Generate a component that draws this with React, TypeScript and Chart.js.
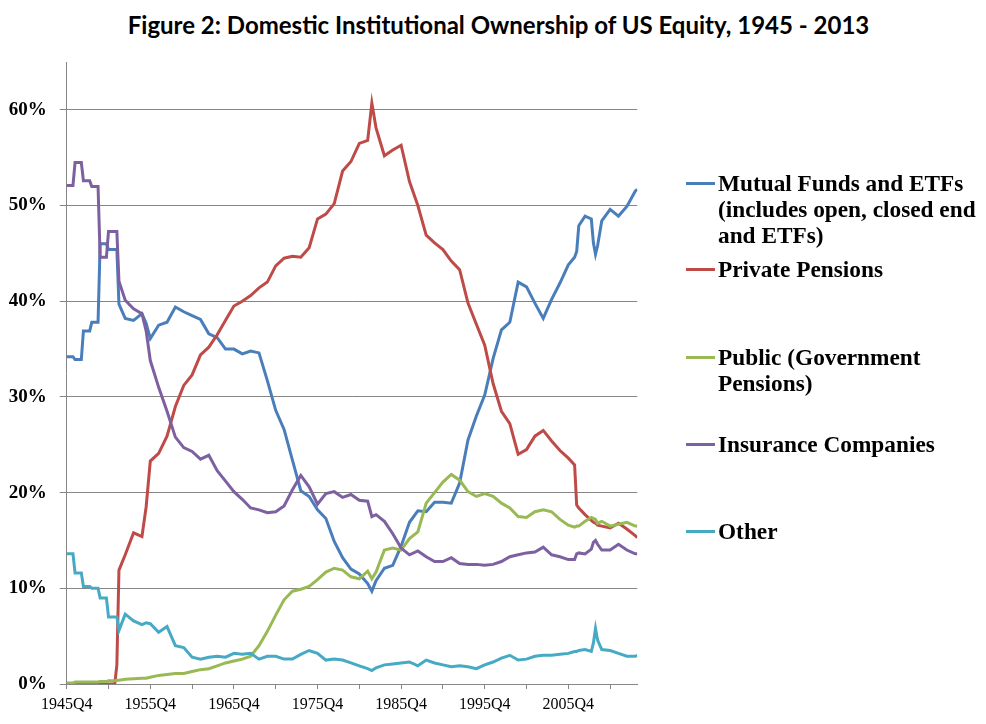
import { useEffect, useRef } from 'react';
import { Chart, LineController, LineElement, PointElement, LinearScale } from 'chart.js';

Chart.register(LineController, LineElement, PointElement, LinearScale);

// Dates of the points (annual Q4 values, plus extra
// quarters where the series step or spike).
const quarters = [
  '1945Q4', '1946Q3', '1946Q4', '1947Q3', '1947Q4', '1948Q3', '1948Q4', '1949Q3', '1949Q4',
  '1950Q3', '1950Q4', '1951Q3', '1951Q4', '1952Q1', '1952Q4', '1953Q4', '1954Q4', '1955Q2',
  '1955Q4', '1956Q4', '1957Q4', '1958Q4', '1959Q4', '1960Q4', '1961Q4', '1962Q4', '1963Q4',
  '1964Q4', '1965Q4', '1966Q4', '1967Q4', '1968Q4', '1969Q4', '1970Q4', '1971Q4', '1972Q4',
  '1973Q4', '1974Q4', '1975Q4', '1976Q4', '1977Q4', '1978Q4', '1979Q4', '1980Q4', '1981Q4',
  '1982Q2', '1982Q4', '1983Q4', '1984Q4', '1985Q4', '1986Q4', '1987Q4', '1988Q4', '1989Q4',
  '1990Q4', '1991Q4', '1992Q4', '1993Q4', '1994Q4', '1995Q4', '1996Q4', '1997Q4', '1998Q4',
  '1999Q4', '2000Q4', '2001Q4', '2002Q4', '2003Q4', '2004Q4', '2005Q4', '2006Q3', '2006Q4',
  '2007Q1', '2007Q4', '2008Q3', '2008Q4', '2009Q1', '2009Q2', '2009Q4', '2010Q4', '2011Q4',
  '2012Q4', '2013Q4', '2014Q1',
];

// percent of US equity
const mutualFunds = [
  34.2, 34.2, 33.9, 33.9, 36.9, 36.9, 37.8, 37.8, 46.0, 46.0, 45.4, 45.4, 45.4, 39.7,
  38.2, 38.0, 38.7, 37.7, 36.1, 37.5, 37.8, 39.4, 38.9, 38.5, 38.1, 36.6,
  36.2, 35.0, 35.0, 34.5, 34.8, 34.6, 31.7, 28.6, 26.6, 23.4, 20.2, 19.6, 18.2, 17.3, 14.9,
  13.2, 12.0, 11.5, 10.5, 9.7,
  10.8, 12.1, 12.4, 14.4, 16.9, 18.1, 18.0, 19.0, 19.0, 18.9, 21.0, 25.5, 28.0, 30.2, 34.0,
  37.0, 37.8, 42.0, 41.5, 39.8, 38.2, 40.2, 41.9, 43.8,
  44.6, 45.2, 47.9, 48.9, 48.6, 46.1, 44.9, 45.8, 48.4, 49.6, 48.9, 49.9, 51.5, 51.7,
];
const privatePensions = [
  0, 0, 0, 0, 0, 0, 0, 0, 0, 0, 0, 0, 2.0, 11.9,
  13.5, 15.8, 15.4, 18.5, 23.3, 24.1, 25.9, 29.0, 31.2, 32.3, 34.4, 35.2,
  36.5, 38.0, 39.5, 40.0, 40.6, 41.4, 42.0, 43.7, 44.5, 44.7, 44.6, 45.6, 48.6, 49.1, 50.2,
  53.6, 54.6, 56.5, 56.8, 60.7,
  58.1, 55.2, 55.8, 56.3, 52.5, 50.0, 46.9, 46.1, 45.4, 44.2, 43.3, 39.8, 37.6, 35.4, 31.4,
  28.5, 27.2, 24.0, 24.5, 25.9, 26.5, 25.4, 24.4, 23.6,
  22.9, 18.7, 18.4, 17.7, 17.1, 16.9, 16.8, 16.6, 16.5, 16.3, 16.8, 16.2, 15.5, 15.3,
];
const publicPensions = [
  0.1, 0.1, 0.2, 0.2, 0.2, 0.2, 0.2, 0.2, 0.25, 0.25, 0.35, 0.35, 0.4, 0.4,
  0.5, 0.55, 0.6, 0.6, 0.7, 0.9, 1.0, 1.1, 1.1, 1.3, 1.5, 1.6,
  1.9, 2.2, 2.4, 2.6, 2.9, 4.0, 5.5, 7.2, 8.8, 9.7, 9.9, 10.2, 10.9, 11.7, 12.1,
  11.9, 11.2, 11.0, 11.8, 11.0,
  11.7, 14.0, 14.2, 14.0, 15.2, 15.9, 18.9, 20.0, 21.1, 21.9, 21.3, 20.1, 19.6, 19.9, 19.6,
  18.9, 18.4, 17.5, 17.4, 18.0, 18.2, 18.0, 17.2, 16.6,
  16.4, 16.5, 16.5, 17.0, 17.4, 17.3, 17.2, 16.8, 17.0, 16.5, 16.7, 16.9, 16.5, 16.5,
];
const insurance = [
  52.1, 52.1, 54.5, 54.5, 52.6, 52.6, 52.0, 52.0, 44.6, 44.6, 47.3, 47.3, 47.3, 42.1,
  40.1, 39.2, 38.7, 36.9, 33.8, 31.0, 28.5, 25.8, 24.7, 24.3, 23.5, 23.9,
  22.3, 21.2, 20.1, 19.3, 18.4, 18.2, 17.9, 18.0, 18.6, 20.3, 21.8, 20.6, 18.8, 19.9, 20.1,
  19.5, 19.8, 19.2, 19.1, 17.5,
  17.7, 17.0, 15.7, 14.2, 13.5, 13.9, 13.3, 12.8, 12.8, 13.2, 12.6, 12.5, 12.5, 12.4, 12.5,
  12.8, 13.3, 13.5, 13.7, 13.8, 14.3, 13.5, 13.3, 13.0,
  13.0, 13.6, 13.7, 13.6, 14.1, 14.8, 15.0, 14.6, 14.0, 14.0, 14.6, 14.0, 13.6, 13.6,
];
const other = [
  13.6, 13.6, 11.6, 11.6, 10.2, 10.2, 10.0, 10.0, 9.0, 9.0, 7.0, 7.0, 7.0, 5.6,
  7.3, 6.6, 6.2, 6.4, 6.3, 5.4, 6.0, 4.0, 3.8, 2.8, 2.6, 2.8,
  2.9, 2.8, 3.2, 3.1, 3.2, 2.6, 2.9, 2.9, 2.6, 2.6, 3.1, 3.5, 3.2, 2.5, 2.6,
  2.5, 2.2, 1.9, 1.6, 1.4,
  1.7, 2.0, 2.1, 2.2, 2.3, 1.9, 2.5, 2.2, 2.0, 1.8, 1.9, 1.8, 1.6, 2.0, 2.3,
  2.7, 3.0, 2.5, 2.6, 2.9, 3.0, 3.0, 3.1, 3.2,
  3.4, 3.4, 3.5, 3.6, 3.4, 4.3, 5.8, 4.6, 3.6, 3.5, 3.2, 2.9, 2.9, 3.0,
];

const series = [
  { label: 'Mutual Funds and ETFs (includes open, closed end and ETFs)', values: mutualFunds, color: '#4A7EBB' },
  { label: 'Private Pensions', values: privatePensions, color: '#BE4B48' },
  { label: 'Public (Government Pensions)', values: publicPensions, color: '#98B954' },
  { label: 'Insurance Companies', values: insurance, color: '#7D60A0' },
  { label: 'Other', values: other, color: '#46AAC5' },
];

// legend text, broken into lines as in the figure
const legendLines = [
  ['Mutual Funds and ETFs', '(includes open, closed end', 'and ETFs)'],
  ['Private Pensions'],
  ['Public (Government', 'Pensions)'],
  ['Insurance Companies'],
  ['Other'],
];
const legendTops = [170, 256, 344, 431, 518];

const firstYear = 1945;
const lastQuarter = 273; // 2014Q1, counted from 1945Q4

function quarterIndex(label: string) {
  return (parseInt(label.slice(0, 4), 10) - firstYear) * 4 + parseInt(label.slice(5), 10) - 4;
}

const gridColor = '#868686';

export default function App() {
  const canvasRef = useRef<HTMLCanvasElement>(null);

  useEffect(() => {
    if (!canvasRef.current) return;
    const chart = new Chart(canvasRef.current, {
      type: 'line',
      data: {
        datasets: series.map((s, i) => ({
          label: s.label,
          data: quarters.map((q, j) => ({ x: quarterIndex(q), y: s.values[j] / 100 })),
          borderColor: s.color,
          backgroundColor: s.color,
          borderWidth: 3,
          pointRadius: 0,
          tension: 0,
          order: series.length - i,
        })),
      },
      options: {
        responsive: true,
        maintainAspectRatio: false,
        animation: false,
        layout: { padding: { top: 62, right: 348.7, left: 0, bottom: 0 } },
        plugins: { legend: { display: false }, tooltip: { enabled: false } },
        scales: {
          x: {
            type: 'linear',
            min: 0,
            max: lastQuarter,
            afterFit: (scale) => {
              scale.height = 40;
            },
            grid: {
              drawOnChartArea: false,
              color: gridColor,
              tickLength: 5,
            },
            border: { color: gridColor },
            ticks: {
              stepSize: 20,
              includeBounds: false,
              autoSkip: false,
              maxRotation: 0,
              padding: 6,
              color: '#000',
              font: { family: '"Liberation Serif", serif', size: 16 },
              callback: (v) => (Number(v) % 40 === 0 ? `${firstYear + Number(v) / 4}Q4` : ''),
            },
          },
          y: {
            min: 0,
            max: 0.65,
            afterFit: (scale) => {
              scale.width = 66.7;
            },
            grid: { color: gridColor, tickLength: 7 },
            border: { color: gridColor },
            ticks: {
              stepSize: 0.1,
              includeBounds: false,
              padding: 13,
              color: '#000',
              font: { family: '"Liberation Serif", serif', size: 19, weight: 'bold' },
              callback: (v) => `${Math.round(Number(v) * 100)}%`,
            },
          },
        },
      },
    });
    return () => chart.destroy();
  }, []);

  return (
    <div style={{ position: 'fixed', left: 0, top: 0, width: 986, height: 724, background: '#fff' }}>
      <div
        style={{
          position: 'absolute',
          left: 0,
          top: 10,
          width: 997,
          textAlign: 'center',
          fontFamily: 'Lato, sans-serif',
          fontWeight: 700,
          fontSize: 24,
          lineHeight: '30px',
          color: '#000',
          whiteSpace: 'nowrap',
        }}
      >
        Figure 2: Domestic Institutional Ownership of US Equity, 1945 - 2013
      </div>
      <div style={{ position: 'absolute', left: 0, top: 0, width: 986, height: 724 }}>
        <canvas ref={canvasRef} />
      </div>
      {legendLines.map((lines, i) => (
        <div key={i} style={{ position: 'absolute', left: 686, top: legendTops[i] }}>
          <div
            style={{
              position: 'absolute',
              left: 0,
              top: 12,
              width: 29,
              height: 3,
              background: series[i].color,
            }}
          />
          <div
            style={{
              marginLeft: 32,
              fontFamily: '"Liberation Serif", serif',
              fontWeight: 700,
              fontSize: 23.3,
              lineHeight: '26px',
              color: '#000',
              whiteSpace: 'nowrap',
            }}
          >
            {lines.map((t, j) => (
              <div key={j}>{t}</div>
            ))}
          </div>
        </div>
      ))}
    </div>
  );
}
